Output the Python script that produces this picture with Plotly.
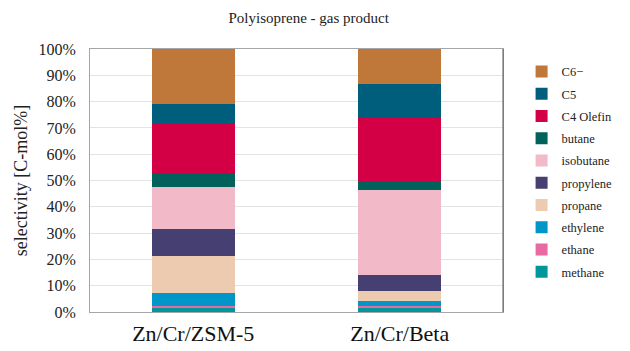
import plotly.graph_objects as go

# Catalysts on the x axis
catalysts = ["Zn/Cr/ZSM-5", "Zn/Cr/Beta"]

# Product fractions (% of C-mol), bottom of the stack first
components = ["methane", "ethane", "ethylene", "propane", "propylene",
              "isobutane", "butane", "C4 Olefin", "C5", "C6−"]
zsm5_values = [1.5, 0.8, 4.9, 14.0, 10.5, 15.8, 5.5, 19.0, 7.0, 21.0]
beta_values = [1.7, 0.7, 1.6, 3.8, 6.4, 32.2, 3.1, 24.2, 13.1, 13.2]

colors = ["#00979A", "#E96AA0", "#0096C8", "#EDCBB0", "#463F72",
          "#F2BAC9", "#00625A", "#D40045", "#005E7D", "#C0783A"]

serif = "Liberation Serif, Times New Roman, serif"

fig = go.Figure()
for i, name in enumerate(components):
    fig.add_trace(go.Bar(
        x=catalysts,
        y=[zsm5_values[i] / 100, beta_values[i] / 100],
        name=name,
        legendgroup=name,
        legendrank=100 + len(components) - i,  # top of stack listed first
        marker=dict(color=colors[i], line=dict(width=0)),
        width=0.4,
    ))

fig.update_layout(
    barmode="stack",
    width=630, height=351,
    margin=dict(l=90, r=108, t=49, b=39),
    paper_bgcolor="white",
    plot_bgcolor="white",
    font=dict(family=serif, color="#222222"),
    title=dict(text="Polyisoprene - gas product", x=0.49, xanchor="center",
               y=0.95, yanchor="middle", font=dict(size=15, family=serif)),
    legend=dict(traceorder="grouped", x=1.045, xanchor="left",
                y=0.97, yanchor="top", font=dict(size=12.5, family=serif),
                itemwidth=30, tracegroupgap=3, borderwidth=0,
                bgcolor="rgba(0,0,0,0)"),
    showlegend=True,
)

fig.update_xaxes(
    automargin=False,
    showline=True, linecolor="#A6A6A6", linewidth=1, mirror=True,
    ticks="outside", ticklen=2, tickcolor="rgba(0,0,0,0)",
    tickfont=dict(size=22, family=serif, color="#111111"),
    showgrid=False,
)
fig.update_yaxes(
    automargin=False,
    range=[0, 1], dtick=0.1, tickformat=".0%",
    showline=True, linecolor="#A6A6A6", linewidth=1, mirror=True,
    gridcolor="#E3E3E3", gridwidth=1,
    ticks="outside", ticklen=10, tickcolor="rgba(0,0,0,0)",
    tickfont=dict(size=16, family=serif, color="#222222"),
    title=dict(text="selectivity [C-mol%]", font=dict(size=18, family=serif),
               standoff=6),
)

# darker right-hand frame edge
fig.add_shape(type="line", xref="paper", yref="paper", x0=1, x1=1, y0=0, y1=1,
              line=dict(color="#555555", width=1))

fig.write_html("out.html")
